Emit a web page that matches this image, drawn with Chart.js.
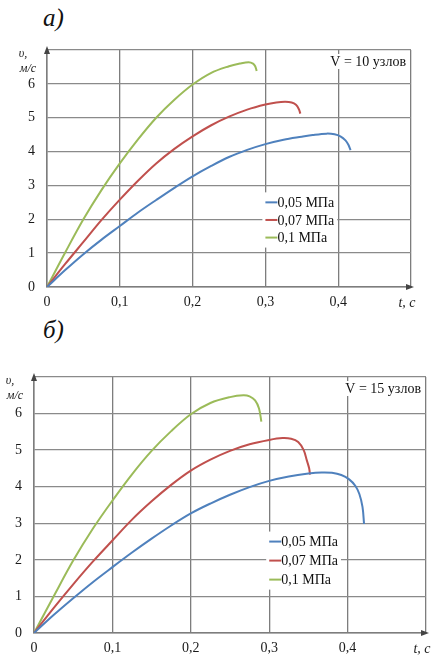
<!DOCTYPE html>
<html lang="ru">
<head>
<meta charset="utf-8">
<script src="https://cdn.jsdelivr.net/npm/chart.js@4.4.0/dist/chart.umd.min.js"></script>
<style>
  body { margin: 0; background: #fff; width: 433px; height: 659px; position: relative; overflow: hidden; font-family: "Liberation Serif", serif; }
  .cap { position: absolute; left: 43px; font-style: italic; font-size: 25px; line-height: 24px; color: #111; }
  canvas { position: absolute; left: 0; }
</style>
</head>
<body>
<div class="cap" style="top:6px">а)</div>
<div class="cap" style="top:318px">б)</div>
<canvas id="chartA" width="433" height="330" style="top:0"></canvas>
<canvas id="chartB" width="433" height="329" style="top:330px"></canvas>
<script>
/* =========================
   ДАННЫЕ
========================= */
const seriesLabels = ["0,05 МПа", "0,07 МПа", "0,1 МПа"];
const timeTicks = [0, 0.1, 0.2, 0.3, 0.4, 0.5];
const timeTickLabels = ["0", "0,1", "0,2", "0,3", "0,4", ""];
const velTicks = [0, 1, 2, 3, 4, 5, 6, 7];
const velTickLabels = ["0", "1", "2", "3", "4", "5", "6", ""];

// а) V = 10 узлов
const tA05 = [0, 0.025, 0.05, 0.075, 0.1, 0.125, 0.15, 0.175, 0.2, 0.225, 0.25, 0.275, 0.3, 0.325, 0.35, 0.365, 0.384, 0.395, 0.403, 0.41, 0.414, 0.417];
const vA05 = [0, 0.5, 0.97, 1.4, 1.8, 2.2, 2.57, 2.93, 3.27, 3.57, 3.84, 4.05, 4.22, 4.35, 4.44, 4.49, 4.53, 4.51, 4.45, 4.33, 4.2, 4.04];
const tA07 = [0, 0.025, 0.05, 0.075, 0.1, 0.125, 0.15, 0.175, 0.2, 0.225, 0.25, 0.275, 0.3, 0.315, 0.327, 0.336, 0.342, 0.346, 0.348];
const vA07 = [0, 0.68, 1.33, 1.98, 2.58, 3.14, 3.65, 4.08, 4.45, 4.77, 5.03, 5.24, 5.39, 5.45, 5.47, 5.45, 5.38, 5.25, 5.12];
const tA10 = [0, 0.025, 0.05, 0.075, 0.1, 0.125, 0.15, 0.175, 0.2, 0.225, 0.25, 0.265, 0.277, 0.283, 0.286, 0.288];
const vA10 = [0, 1.02, 2.0, 2.87, 3.65, 4.36, 5.0, 5.53, 5.98, 6.32, 6.52, 6.6, 6.64, 6.6, 6.52, 6.38];

// б) V = 15 узлов
const tB05 = [0, 0.025, 0.05, 0.075, 0.1, 0.125, 0.15, 0.175, 0.2, 0.225, 0.25, 0.275, 0.3, 0.325, 0.35, 0.367, 0.38, 0.392, 0.402, 0.41, 0.415, 0.419, 0.421];
const vB05 = [0, 0.49, 0.95, 1.39, 1.8, 2.2, 2.58, 2.94, 3.27, 3.54, 3.78, 3.99, 4.16, 4.28, 4.36, 4.39, 4.38, 4.32, 4.2, 4.02, 3.8, 3.45, 2.98];
const tB07 = [0, 0.025, 0.05, 0.075, 0.1, 0.125, 0.15, 0.175, 0.2, 0.225, 0.25, 0.275, 0.3, 0.317, 0.328, 0.337, 0.344, 0.348, 0.351, 0.352];
const vB07 = [0, 0.68, 1.33, 1.95, 2.53, 3.1, 3.6, 4.05, 4.44, 4.74, 4.98, 5.16, 5.28, 5.33, 5.31, 5.22, 5.0, 4.72, 4.5, 4.33];
const tB10 = [0, 0.025, 0.05, 0.075, 0.1, 0.125, 0.15, 0.175, 0.2, 0.225, 0.25, 0.267, 0.275, 0.282, 0.287, 0.29];
const vB10 = [0, 1.0, 1.98, 2.85, 3.62, 4.34, 4.98, 5.52, 5.98, 6.29, 6.45, 6.5, 6.47, 6.36, 6.14, 5.78];

const colors = ["#4f81bd", "#c0504d", "#9bbb59"];

/* =========================
   ОФОРМЛЕНИЕ
========================= */
const decor = {
  id: "decor",
  afterDraw(chart) {
    const o = chart.options.plugins.decor;
    const { ctx, chartArea: a, scales: { x, y } } = chart;
    ctx.save();

    // стрелки осей
    ctx.fillStyle = "#444";
    ctx.beginPath();
    ctx.moveTo(a.left, a.top - 4);
    ctx.lineTo(a.left - 3, a.top + 4);
    ctx.lineTo(a.left + 3, a.top + 4);
    ctx.fill();
    ctx.beginPath();
    ctx.moveTo(a.right + 3, a.bottom);
    ctx.lineTo(a.right - 5, a.bottom - 3);
    ctx.lineTo(a.right - 5, a.bottom + 3);
    ctx.fill();

    // подпись V = ...
    ctx.font = '14px "Liberation Serif"';
    ctx.textBaseline = "middle";
    ctx.textAlign = "right";
    const w = ctx.measureText(o.note).width;
    ctx.fillStyle = "#fff";
    ctx.fillRect(a.right - 5 - w - 2, a.top + 4, w + 4, 15);
    ctx.fillStyle = "#111";
    ctx.fillText(o.note, a.right - 5, a.top + 12);

    // легенда
    ctx.textAlign = "left";
    const lx = x.getPixelForValue(o.legendX);
    const rows = chart.data.datasets.map((ds, i) => y.getPixelForValue(o.legendY - i * o.legendStep));
    let tw = 0;
    chart.data.datasets.forEach(ds => { tw = Math.max(tw, ctx.measureText(ds.label).width); });
    ctx.fillStyle = "#fff";
    ctx.fillRect(lx - 3, rows[0] - 10, 13 + tw + 5, rows[rows.length - 1] - rows[0] + 20);
    chart.data.datasets.forEach((ds, i) => {
      ctx.strokeStyle = ds.borderColor;
      ctx.lineWidth = 2;
      ctx.beginPath();
      ctx.moveTo(lx, rows[i]);
      ctx.lineTo(lx + 12, rows[i]);
      ctx.stroke();
      ctx.fillStyle = "#111";
      ctx.fillText(ds.label, lx + 12, rows[i] + 1);
    });

    // названия осей
    ctx.font = 'italic 12px "Liberation Serif"';
    ctx.textAlign = "center";
    ctx.fillStyle = "#222";
    ctx.fillText("υ,", a.left - 24, a.top + 4);
    ctx.fillText("м/с", a.left - 19, a.top + 19);
    ctx.font = 'italic 14px "Liberation Serif"';
    ctx.fillText("t, с", x.getPixelForValue(0.5) - 4, a.bottom + 16);

    ctx.restore();
  }
};

function makeDatasets(ts, vs) {
  return ts.map((t, i) => ({
    label: seriesLabels[i],
    data: t.map((tv, j) => ({ x: tv, y: vs[i][j] })),
    borderColor: colors[i],
    borderWidth: 2,
    pointRadius: 0,
    tension: 0.35,
    fill: false
  }));
}

function makeChart(id, datasets, o) {
  const tickFont = { family: "Liberation Serif", size: 14 };
  return new Chart(document.getElementById(id), {
    type: "line",
    data: { datasets },
    options: {
      responsive: false,
      animation: false,
      layout: { padding: o.padding },
      plugins: {
        legend: { display: false },
        tooltip: { enabled: false },
        decor: { note: o.note, legendX: 0.3, legendY: 2.5, legendStep: 0.52 }
      },
      scales: {
        x: {
          type: "linear", min: 0, max: 0.5,
          afterBuildTicks: s => { s.ticks = timeTicks.map(v => ({ value: v })); },
          afterFit: s => { s.height = o.xHeight; },
          ticks: { callback: (v, i) => timeTickLabels[i], font: tickFont, color: "#1a1a1a", padding: 7, maxRotation: 0, autoSkip: false },
          grid: { color: "#7d7d7d", lineWidth: 1.3, drawTicks: false },
          border: { color: "#7d7d7d", width: 1.5 }
        },
        y: {
          type: "linear", min: 0, max: 7,
          afterBuildTicks: s => { s.ticks = velTicks.map(v => ({ value: v })); },
          afterFit: s => { s.width = o.yWidth; },
          ticks: { callback: (v, i) => velTickLabels[i], font: tickFont, color: "#1a1a1a", padding: 12 },
          grid: { color: "#8a8a8a", lineWidth: 1.3, drawTicks: false },
          border: { color: "#7d7d7d", width: 1.5 }
        }
      }
    },
    plugins: [decor]
  });
}

/* =========================
   INIT
========================= */
makeChart("chartA", makeDatasets([tA05, tA07, tA10], [vA05, vA07, vA10]), {
  note: "V = 10 узлов",
  padding: { top: 50, right: 22, bottom: 13, left: 0 },
  xHeight: 30, yWidth: 47
});

makeChart("chartB", makeDatasets([tB05, tB07, tB10], [vB05, vB07, vB10]), {
  note: "V = 15 узлов",
  padding: { top: 47, right: 7, bottom: 0, left: 0 },
  xHeight: 26, yWidth: 34
});
</script>
</body>
</html>
